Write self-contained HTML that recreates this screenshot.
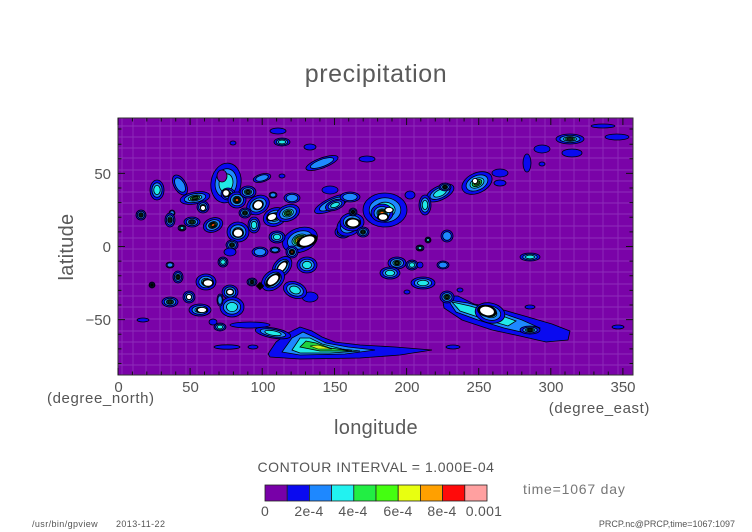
<!DOCTYPE html>
<html><head><meta charset="utf-8"><style>
html,body{margin:0;padding:0;background:#fff;}
svg{display:block;}
text{font-family:"Liberation Sans",sans-serif;fill:#555;}
</style></head><body>
<svg width="752" height="532" viewBox="0 0 752 532" xmlns="http://www.w3.org/2000/svg">
<defs>
<g id="L1"><ellipse rx="1" ry="1" fill="#0a0af0" stroke="#000" stroke-width="0.8" vector-effect="non-scaling-stroke"/></g>
<g id="L2"><use href="#L1"/><ellipse rx=".72" ry=".72" fill="#1e88ff" stroke="#000" stroke-width="0.8" vector-effect="non-scaling-stroke"/></g>
<g id="L3"><use href="#L2"/><ellipse rx=".46" ry=".46" fill="#22e8e8" stroke="#000" stroke-width="0.8" vector-effect="non-scaling-stroke"/></g>
<g id="L4"><use href="#L3"/><ellipse rx=".32" ry=".32" fill="#20d040" stroke="#000" stroke-width="0.8" vector-effect="non-scaling-stroke"/><ellipse rx=".2" ry=".2" fill="#1a4a20" stroke="#000" stroke-width="0.8" vector-effect="non-scaling-stroke"/></g>
<g id="L5"><use href="#L3"/><ellipse rx=".36" ry=".36" fill="#20d040" stroke="#000" stroke-width="0.8" vector-effect="non-scaling-stroke"/><ellipse rx=".27" ry=".27" fill="#d8f010" stroke="#000" stroke-width="0.8" vector-effect="non-scaling-stroke"/><ellipse rx=".18" ry=".18" fill="#ffa000" stroke="#000" stroke-width="0.8" vector-effect="non-scaling-stroke"/><ellipse rx=".09" ry=".09" fill="#ff0a0a"/></g>
<g id="W"><ellipse rx="1" ry="1" fill="#000"/><ellipse rx=".7" ry=".7" fill="#fff"/></g>
</defs>

<!-- plot background -->
<rect x="118" y="118" width="515" height="257" fill="#7a03a8"/>

<!-- grid seams -->
<g stroke="#b070d8" stroke-width="0.9" opacity="0.38">
<path d="M122 118V375M133 118V375M146 118V375M160 118V375M171 118V375M186 118V375M197 118V375M212 118V375M226 118V375M240 118V375M254 118V375M268 118V375M284 118V375M298 118V375M313 118V375M326 118V375M341 118V375M356 118V375M370 118V375M385 118V375M400 118V375M414 118V375M428 118V375M444 118V375M457 118V375M472 118V375M487 118V375M502 118V375M515 118V375M530 118V375M545 118V375M560 118V375M574 118V375M589 118V375M603 118V375M618 118V375"/>
<path d="M118 126H633M118 137H633M118 148H633M118 158H633M118 170H633M118 181H633M118 192H633M118 203H633M118 214H633M118 226H633M118 238H633M118 249H633M118 261H633M118 272H633M118 284H633M118 296H633M118 307H633M118 319H633M118 331H633M118 342H633M118 354H633M118 365H633"/>
</g>

<!-- southern band -->
<path d="M268 354 L276 342 L288 333 L300 327 L312 331 L322 337 L335 342 L360 345 L395 347 L432 350 L400 355 L360 358 L300 359 L270 357 Z" fill="#0a0af0" stroke="#000" stroke-width="0.8"/>
<path d="M282 352 L292 338 L303 332 L314 337 L326 343 L348 347 L375 350 L345 354 L300 355 Z" fill="#1e88ff" stroke="#000" stroke-width="0.8"/>
<path d="M292 350 L300 338 L310 338 L322 344 L342 349 L360 351 L330 353 L300 353 Z" fill="#22e8e8" stroke="#000" stroke-width="0.8"/>
<path d="M300 347 L306 341 L316 343 L330 348 L352 351 L320 351 Z" fill="#20d040" stroke="#000" stroke-width="0.8"/>
<path d="M310 346 L318 345 L332 349 L318 349 Z" fill="#c8f020" stroke="#000" stroke-width="0.6"/>
<use href="#L1" transform="translate(227 347) scale(13 2.2)"/>
<use href="#L1" transform="translate(253 347) scale(5 2)"/>

<!-- SE band -->
<path d="M442 296 L458 296 L474 304 L500 309 L528 317 L552 324 L570 331 L568 340 L546 342 L520 336 L492 330 L462 320 L444 308 Z" fill="#0a0af0" stroke="#000" stroke-width="0.8"/>
<path d="M448 300 L468 303 L496 311 L522 320 L540 328 L530 334 L504 328 L478 320 L456 312 Z" fill="#1e88ff" stroke="#000" stroke-width="0.8"/>
<path d="M452 302 L470 306 L494 313 L516 321 L508 326 L484 319 L460 311 Z" fill="#22e8e8" stroke="#000" stroke-width="0.8"/>
<use href="#L5" transform="translate(490 313) rotate(12) scale(15 10)"/>
<use href="#W" transform="translate(487 311) rotate(12) scale(10 6)"/>
<use href="#L4" transform="translate(530 330) scale(10 4)"/>

<!-- upper-left cluster -->
<use href="#L3" transform="translate(157 190) scale(7 10)"/>
<use href="#L4" transform="translate(141 215) scale(5 5)"/>
<use href="#L2" transform="translate(172 213) scale(3 3)"/>
<use href="#L2" transform="translate(180 185) rotate(-30) scale(6 11)"/>
<use href="#L4" transform="translate(195 198) rotate(-10) scale(15 6)"/>
<use href="#L4" transform="translate(170 220) scale(5 7)"/>
<use href="#L4" transform="translate(192 222) scale(8 5)"/>
<use href="#L5" transform="translate(213 225) rotate(-20) scale(10 7)"/>
<use href="#L4" transform="translate(203 207) scale(6 6)"/>
<use href="#W" transform="translate(203 208) scale(3 3)"/>
<use href="#L3" transform="translate(182 228) scale(4 3)"/>
<use href="#L3" transform="translate(226 183) rotate(10) scale(15 20)"/>
<ellipse cx="222" cy="176" rx="5" ry="6" fill="#7a03a8" stroke="#000" stroke-width="0.8"/>
<use href="#L5" transform="translate(228 194) scale(7 6)"/>
<use href="#W" transform="translate(226 193) scale(4 4)"/>
<use href="#L5" transform="translate(237 200) scale(9 8)"/>
<use href="#L4" transform="translate(248 192) scale(8 6)"/>
<use href="#L2" transform="translate(262 178) rotate(-15) scale(9 4)"/>
<use href="#L4" transform="translate(258 205) rotate(-30) scale(12 9)"/>
<use href="#W" transform="translate(258 205) rotate(-30) scale(6 5)"/>
<use href="#L4" transform="translate(275 217) rotate(-20) scale(12 9)"/>
<use href="#W" transform="translate(272 217) rotate(-20) scale(6 4)"/>
<use href="#L4" transform="translate(245 213) scale(6 5)"/>
<use href="#L4" transform="translate(238 232) scale(11 10)"/>
<use href="#W" transform="translate(238 233) scale(6 5)"/>
<use href="#L3" transform="translate(254 225) scale(6 8)"/>
<use href="#L4" transform="translate(288 213) rotate(-20) scale(12 8)"/>
<use href="#L2" transform="translate(292 198) scale(8 5)"/>
<use href="#L2" transform="translate(332 204) rotate(-25) scale(19 6)"/>
<use href="#L3" transform="translate(335 205) rotate(-20) scale(10 5)"/>
<use href="#L5" transform="translate(300 240) rotate(-20) scale(18 12)"/>
<use href="#W" transform="translate(307 241) rotate(-20) scale(11 6)"/>
<use href="#L5" transform="translate(292 252) scale(6 6)"/>
<use href="#L4" transform="translate(343 232) scale(8 6)"/>
<use href="#L4" transform="translate(350 225) rotate(-30) scale(14 10)"/>
<use href="#W" transform="translate(352 223) rotate(-30) scale(9 6)"/>
<use href="#L3" transform="translate(282 142) scale(8 4)"/>
<use href="#L1" transform="translate(278 131) scale(8 3)"/>
<use href="#L1" transform="translate(310 147) scale(6 3)"/>
<use href="#L2" transform="translate(322 163) rotate(-20) scale(17 5)"/>
<use href="#L1" transform="translate(282 176) scale(3 2)"/>
<use href="#L1" transform="translate(233 143) scale(3 2)"/>
<use href="#L1" transform="translate(330 190) scale(8 4)"/>
<use href="#L2" transform="translate(273 195) scale(4 3)"/>

<!-- east-central cluster -->
<use href="#L2" transform="translate(350 197) scale(10 5)"/>
<use href="#L3" transform="translate(385 210) scale(22 17)"/>
<use href="#L5" transform="translate(382 213) scale(11 9)"/>
<use href="#W" transform="translate(383 217) scale(6 4)"/>
<use href="#W" transform="translate(389 210) scale(5 3)"/>
<use href="#L4" transform="translate(352 222) scale(12 9)"/>
<use href="#W" transform="translate(353 223) scale(8 5)"/>
<use href="#L4" transform="translate(363 232) scale(6 5)"/>
<use href="#L4" transform="translate(353 212) scale(4 4)"/>
<use href="#L2" transform="translate(447 236) scale(6 6)"/>
<use href="#L3" transform="translate(428 240) scale(3 3)"/>
<use href="#L3" transform="translate(420 248) scale(4 3)"/>
<use href="#L1" transform="translate(367 159) scale(8 3)"/>
<use href="#L1" transform="translate(410 195) scale(5 4)"/>
<use href="#L3" transform="translate(440 193) rotate(-25) scale(15 7)"/>
<use href="#L3" transform="translate(425 205) scale(6 10)"/>
<use href="#L4" transform="translate(445 187) scale(6 4)"/>
<use href="#L1" transform="translate(500 173) scale(8 4)"/>
<use href="#L1" transform="translate(500 183) scale(6 3)"/>
<use href="#L4" transform="translate(477 183) rotate(-25) scale(16 10)"/>
<use href="#W" transform="translate(475 181) scale(3 3)"/>
<use href="#L1" transform="translate(527 163) scale(4 9)"/>
<use href="#L1" transform="translate(542 164) scale(3 2)"/>
<use href="#L1" transform="translate(542 149) scale(8 4)"/>
<use href="#L1" transform="translate(572 153) scale(10 4)"/>
<use href="#L4" transform="translate(570 139) scale(14 5)"/>
<use href="#L1" transform="translate(603 126) scale(12 2)"/>
<use href="#L1" transform="translate(617 137) scale(12 3)"/>
<use href="#L3" transform="translate(530 257) scale(10 4)"/>

<!-- lower-left cluster -->
<use href="#L4" transform="translate(232 245) scale(6 5)"/>
<use href="#L3" transform="translate(277 237) scale(8 6)"/>
<use href="#L4" transform="translate(282 267) rotate(-50) scale(12 8)"/>
<use href="#W" transform="translate(282 267) rotate(-50) scale(8 4)"/>
<use href="#L4" transform="translate(273 280) rotate(-40) scale(13 9)"/>
<use href="#W" transform="translate(273 280) rotate(-40) scale(9 5)"/>
<rect x="257" y="283" width="6" height="6" transform="rotate(45 260 286)" fill="#000"/>
<use href="#L4" transform="translate(252 282) scale(5 4)"/>
<use href="#L3" transform="translate(307 265) scale(10 8)"/>
<use href="#L1" transform="translate(310 297) scale(8 5)"/>
<use href="#L3" transform="translate(295 290) rotate(20) scale(12 8)"/>
<use href="#L4" transform="translate(206 282) scale(10 8)"/>
<use href="#W" transform="translate(208 283) scale(6 4)"/>
<use href="#L4" transform="translate(230 292) scale(8 7)"/>
<use href="#W" transform="translate(230 292) scale(4 3)"/>
<use href="#L4" transform="translate(189 297) scale(6 6)"/>
<use href="#W" transform="translate(189 297) scale(3 3)"/>
<use href="#L4" transform="translate(200 310) scale(11 6)"/>
<use href="#W" transform="translate(202 310) scale(6 3)"/>
<use href="#L4" transform="translate(170 302) scale(8 5)"/>
<use href="#L4" transform="translate(178 277) scale(5 6)"/>
<use href="#L2" transform="translate(170 265) scale(4 3)"/>
<use href="#L4" transform="translate(152 285) scale(3 3)"/>
<use href="#L3" transform="translate(223 262) scale(5 5)"/>
<use href="#L1" transform="translate(230 252) scale(6 4)"/>
<use href="#L2" transform="translate(260 252) scale(8 5)"/>
<use href="#L2" transform="translate(275 250) scale(5 3)"/>
<use href="#L3" transform="translate(232 307) scale(12 10)"/>
<use href="#L2" transform="translate(220 300) scale(3 6)"/>
<use href="#L1" transform="translate(213 322) scale(4 3)"/>
<use href="#L3" transform="translate(220 327) scale(6 4)"/>
<use href="#L1" transform="translate(250 325) scale(20 3)"/>
<use href="#L3" transform="translate(273 333) rotate(10) scale(18 5)"/>
<use href="#L1" transform="translate(143 320) scale(6 2)"/>

<!-- right-central cluster -->
<use href="#L4" transform="translate(397 263) scale(9 6)"/>
<use href="#L3" transform="translate(412 265) scale(6 5)"/>
<use href="#L3" transform="translate(390 273) scale(10 6)"/>
<use href="#L3" transform="translate(423 283) scale(12 6)"/>
<use href="#L4" transform="translate(447 297) scale(7 6)"/>
<use href="#L2" transform="translate(443 265) scale(6 4)"/>
<use href="#L1" transform="translate(460 290) scale(3 2)"/>
<use href="#L1" transform="translate(530 307) scale(5 2)"/>
<use href="#L1" transform="translate(618 327) scale(6 2)"/>
<use href="#L1" transform="translate(453 347) scale(7 2)"/>
<use href="#L1" transform="translate(407 292) scale(3 2)"/>
<use href="#L1" transform="translate(420 265) scale(3 3)"/>

<!-- frame -->
<rect x="118" y="118" width="515" height="257" fill="none" stroke="#333" stroke-width="1"/>

<!-- ticks -->
<g stroke="#111" stroke-width="1">
<path d="M118 375v-7M190.1 375v-7M262.2 375v-7M334.5 375v-7M406.6 375v-7M478.7 375v-7M550.8 375v-7M622.9 375v-7"/>
<path d="M118 118v7M190.1 118v7M262.2 118v7M334.5 118v7M406.6 118v7M478.7 118v7M550.8 118v7M622.9 118v7"/>
<path d="M132.4 375v-3.5M146.8 375v-3.5M161.3 375v-3.5M175.7 375v-3.5M204.5 375v-3.5M219 375v-3.5M233.4 375v-3.5M247.8 375v-3.5M276.6 375v-3.5M291.1 375v-3.5M305.5 375v-3.5M319.9 375v-3.5M348.7 375v-3.5M363.2 375v-3.5M377.6 375v-3.5M392 375v-3.5M420.8 375v-3.5M435.3 375v-3.5M449.7 375v-3.5M464.1 375v-3.5M492.9 375v-3.5M507.4 375v-3.5M521.8 375v-3.5M536.2 375v-3.5M565 375v-3.5M579.5 375v-3.5M593.9 375v-3.5M608.3 375v-3.5"/>
<path d="M132.4 118v3.5M146.8 118v3.5M161.3 118v3.5M175.7 118v3.5M204.5 118v3.5M219 118v3.5M233.4 118v3.5M247.8 118v3.5M276.6 118v3.5M291.1 118v3.5M305.5 118v3.5M319.9 118v3.5M348.7 118v3.5M363.2 118v3.5M377.6 118v3.5M392 118v3.5M420.8 118v3.5M435.3 118v3.5M449.7 118v3.5M464.1 118v3.5M492.9 118v3.5M507.4 118v3.5M521.8 118v3.5M536.2 118v3.5M565 118v3.5M579.5 118v3.5M593.9 118v3.5M608.3 118v3.5"/>
<path d="M118 173.4h7M118 246.5h7M118 319.6h7M633 173.4h-7M633 246.5h-7M633 319.6h-7"/>
<path d="M118 129h3.5M118 144.2h3.5M118 158.8h3.5M118 188h3.5M118 202.6h3.5M118 217.3h3.5M118 231.9h3.5M118 261.1h3.5M118 275.8h3.5M118 290.4h3.5M118 305h3.5M118 334.2h3.5M118 348.9h3.5M118 363.5h3.5"/>
<path d="M633 129h-3.5M633 144.2h-3.5M633 158.8h-3.5M633 188h-3.5M633 202.6h-3.5M633 217.3h-3.5M633 231.9h-3.5M633 261.1h-3.5M633 275.8h-3.5M633 290.4h-3.5M633 305h-3.5M633 334.2h-3.5M633 348.9h-3.5M633 363.5h-3.5"/>
</g>

<!-- texts -->
<text x="376" y="82" font-size="25" text-anchor="middle" letter-spacing="0.6" style="fill:#5a5a5a">precipitation</text>
<text transform="translate(73 247) rotate(-90)" font-size="20" text-anchor="middle" letter-spacing="0.3" style="fill:#5a5a5a">latitude</text>
<text x="376" y="434" font-size="20" text-anchor="middle" letter-spacing="0.3" style="fill:#5a5a5a">longitude</text>
<g font-size="15" text-anchor="end">
<text x="111" y="179">50</text>
<text x="111" y="252">0</text>
<text x="111" y="325">−50</text>
</g>
<g font-size="15" text-anchor="middle">
<text x="118.5" y="392">0</text>
<text x="190.5" y="392">50</text>
<text x="263" y="392">100</text>
<text x="335" y="392">150</text>
<text x="407" y="392">200</text>
<text x="479" y="392">250</text>
<text x="551" y="392">300</text>
<text x="623" y="392">350</text>
</g>
<text x="47" y="403" font-size="15" letter-spacing="0.6">(degree_north)</text>
<text x="650" y="413" font-size="15" text-anchor="end" letter-spacing="0.6">(degree_east)</text>
<text x="376" y="472" font-size="14" text-anchor="middle" letter-spacing="0.55">CONTOUR INTERVAL = 1.000E-04</text>

<!-- colorbar -->
<g stroke="#222" stroke-width="0.8">
<rect x="265" y="485" width="22.2" height="16" fill="#7800a8"/>
<rect x="287.2" y="485" width="22.2" height="16" fill="#0a0af0"/>
<rect x="309.4" y="485" width="22.2" height="16" fill="#1e88ff"/>
<rect x="331.6" y="485" width="22.2" height="16" fill="#22f2f0"/>
<rect x="353.8" y="485" width="22.2" height="16" fill="#22ee44"/>
<rect x="376" y="485" width="22.2" height="16" fill="#44ff10"/>
<rect x="398.2" y="485" width="22.2" height="16" fill="#e8ff10"/>
<rect x="420.4" y="485" width="22.2" height="16" fill="#ffa000"/>
<rect x="442.6" y="485" width="22.2" height="16" fill="#ff0a0a"/>
<rect x="464.8" y="485" width="22.2" height="16" fill="#ffa0a0"/>
</g>
<g font-size="14" text-anchor="middle" letter-spacing="0.3">
<text x="265" y="516">0</text>
<text x="309" y="516">2e-4</text>
<text x="353" y="516">4e-4</text>
<text x="398" y="516">6e-4</text>
<text x="442" y="516">8e-4</text>
<text x="484" y="516">0.001</text>
</g>
<text x="523" y="494" font-size="14" letter-spacing="0.8" style="fill:#777">time=1067 day</text>
<text x="32" y="527" font-size="9" letter-spacing="0.4" style="fill:#555">/usr/bin/gpview</text>
<text x="116" y="527" font-size="9" letter-spacing="0.4" style="fill:#555">2013-11-22</text>
<text x="735" y="527" font-size="9" text-anchor="end" style="fill:#555">PRCP.nc@PRCP,time=1067:1097</text>
</svg>
</body></html>
